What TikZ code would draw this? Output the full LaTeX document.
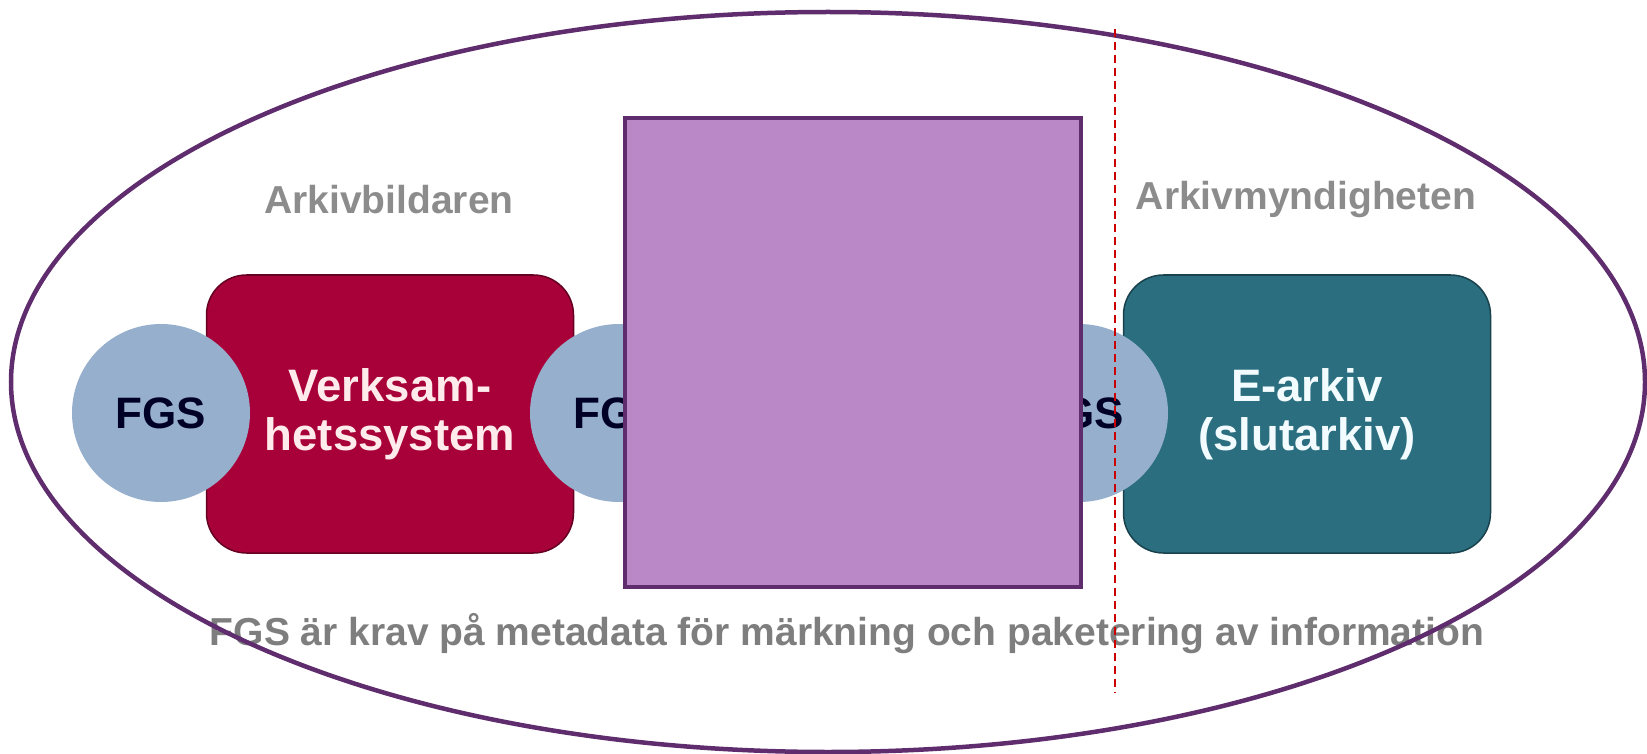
\documentclass[tikz,border=0pt]{standalone}
\usepackage{fontspec}
\setmainfont{Liberation Sans}
\usetikzlibrary{positioning, shapes.geometric}

\begin{document}
\begin{tikzpicture}[x=1pt, y=-1pt, font=\bfseries]
        % colours
        \colorlet{framepurple}{rgb,255:red,95;green,45;blue,110}
        \colorlet{coverpurple}{rgb,255:red,186;green,136;blue,198}
        \colorlet{sysred}{rgb,255:red,168;green,0;blue,56}
        \colorlet{archteal}{rgb,255:red,42;green,110;blue,128}
        \colorlet{fgsblue}{rgb,255:red,150;green,175;blue,205}
        \colorlet{labelgray}{rgb,255:red,140;green,140;blue,140}

        % common styles
        \tikzset{
            sysbox/.style={rounded corners=40pt, minimum width=367pt, minimum height=278pt,
                inner sep=0pt, align=center, line width=1.5pt,
                font=\bfseries\fontsize{45.5}{49}\selectfont},
            fgs/.style={circle, fill=fgsblue, minimum size=178pt, inner sep=0pt,
                text=black!85!blue, font=\bfseries\fontsize{44}{49}\selectfont},
            sidelabel/.style={text=labelgray, font=\bfseries\fontsize{39}{44}\selectfont},
            cover/.style={draw=framepurple, fill=coverpurple, line width=4pt,
                minimum width=456pt, minimum height=469pt},
            frame/.style={ellipse, draw=framepurple, line width=4.5pt,
                minimum width=1634pt, minimum height=740pt},
            cutline/.style={red!80!black, dashed, line width=1.3pt, dash pattern=on 8pt off 5pt}
        }

        \useasboundingbox (0,0) rectangle (1647,754);

        % --- boxes ---
        \node[sysbox, draw=sysred!60!black, fill=sysred, text=red!8!white] (verk) at (390,414)
            {Verksam-\\hetssystem};
        \node[sysbox, draw=archteal!60!black, fill=archteal, text=cyan!5!white] (earkiv) at (1307,414)
            {E-arkiv\\(slutarkiv)};

        % --- FGS circles ---
        \node[fgs] (fgsA) at (161,413) {FGS};
        \node[fgs] (fgsB) at (619,413) {FGS};
        \node[fgs] (fgsC) at (1079,413) {FGS};

        % --- labels ---
        \node[sidelabel] (bildare) at (389,200) {Arkivbildaren};
        \node[sidelabel] (myndighet) at (1306,200) {Arkivmyndigheten};
        \node[sidelabel, text=labelgray!90!black] (krav) at (847,634)
            {FGS är krav på metadata för märkning och paketering av information};

        % --- cover and frame ---
        \node[cover] (coverbox) at (853,352.5) {};
        \node[frame] (ring) at (828,382) {};

        % gränslinje
        \coordinate (cutTop) at (1115,29);
        \coordinate (cutBot) at (1115,693);
        \draw[cutline] (cutTop) -- (cutBot);
\end{tikzpicture}
\end{document}
